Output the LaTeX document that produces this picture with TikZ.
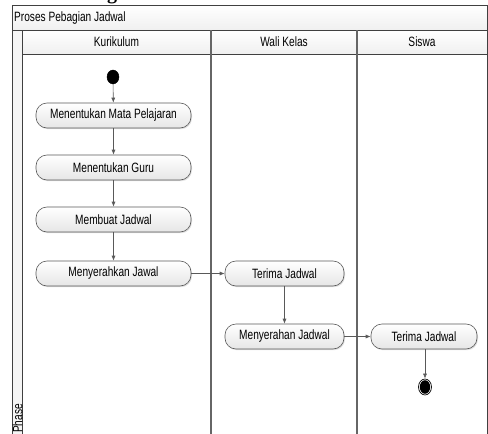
\documentclass[tikz,border=0pt]{standalone}
\usepackage{fontspec}
\setmainfont{Liberation Sans}[FakeStretch=0.75]
\newfontfamily\headfont{Liberation Serif}
\usetikzlibrary{arrows.meta,shadows,shapes.geometric}

\begin{document}
\begin{tikzpicture}[x=1pt,y=-1pt,
  lbl/.style={font=\fontsize{13.5}{15}\selectfont, inner sep=0pt},
  frameline/.style={draw=black!75, line width=0.8pt},
  laneline/.style={draw=black!60, line width=1.2pt},
  headfill/.style={top color=white, bottom color=black!6},
  act/.style={lbl, draw=black!65, line width=0.6pt, rounded corners=11pt,
    minimum width=155pt, minimum height=25pt,
    top color=white, bottom color=black!10,
    drop shadow={shadow xshift=1pt, shadow yshift=-1.2pt, opacity=0.25}},
  flow/.style={draw=black!65, line width=0.6pt, -{Latex[length=5pt,width=4pt]}}
]
\useasboundingbox (0,0) rectangle (488,434);

% heading above the swimlane frame, cut by the page edge
\node[font=\headfont\bfseries\fontsize{20}{22}\selectfont, anchor=base, inner sep=0pt] (heading) at (112,-0.8) {g};

% swimlane frame: title row, lane headers, phase column
\path[headfill] (12,5) rectangle (487,30);
\path[headfill] (22,30) rectangle (487,54);
\path[fill=black!4] (12,30) rectangle (22,440);
\draw[frameline] (12,5) rectangle (487,440);
\draw[frameline] (12,30) -- (487,30);
\draw[frameline] (22,54) -- (487,54);
\draw[frameline] (22,30) -- (22,440);
\draw[laneline] (211,30) -- (211,440);
\draw[laneline] (357,30) -- (357,440);

\node[lbl, anchor=west] (title) at (14,18) {Proses Pebagian Jadwal};
\node[lbl] (lane1) at (116.5,42) {Kurikulum};
\node[lbl] (lane2) at (284,42) {Wali Kelas};
\node[lbl] (lane3) at (422,42) {Siswa};
\node[lbl, rotate=90, anchor=west] (phase) at (17.5,433) {Phase};

% activities
\node[ellipse, fill=black, draw=black, minimum width=12pt, minimum height=14pt, inner sep=0pt] (start) at (113,77) {};
\node[act] (a1) at (113.5,115.5) {Menentukan Mata Pelajaran};
\node[act] (a2) at (113.5,167.5) {Menentukan Guru};
\node[act] (a3) at (113.5,219.5) {Membuat Jadwal};
\node[act] (a4) at (113.5,273.5) {Menyerahkan Jawal};
\node[act, minimum width=119pt] (b1) at (284.5,273.5) {Terima Jadwal};
\node[act, minimum width=119pt] (b2) at (284.5,336.5) {Menyerahan Jadwal};
\node[act, minimum width=106pt] (c1) at (424,336.5) {Terima Jadwal};
\node[ellipse, draw=black, line width=0.7pt, fill=white, minimum width=13pt, minimum height=16pt, inner sep=0pt] (end) at (425,387) {};
\fill[black] (end.center) ellipse [x radius=5.2pt, y radius=6.8pt];

% control flow
\draw[flow] (start) -- (a1);
\draw[flow] (a1) -- (a2);
\draw[flow] (a2) -- (a3);
\draw[flow] (a3) -- (a4);
\draw[flow] (a4) -- (b1);
\draw[flow] (b1) -- (b2);
\draw[flow] (b2) -- (c1);
\draw[flow] (c1.south -| end) -- (end);
\end{tikzpicture}
\end{document}
